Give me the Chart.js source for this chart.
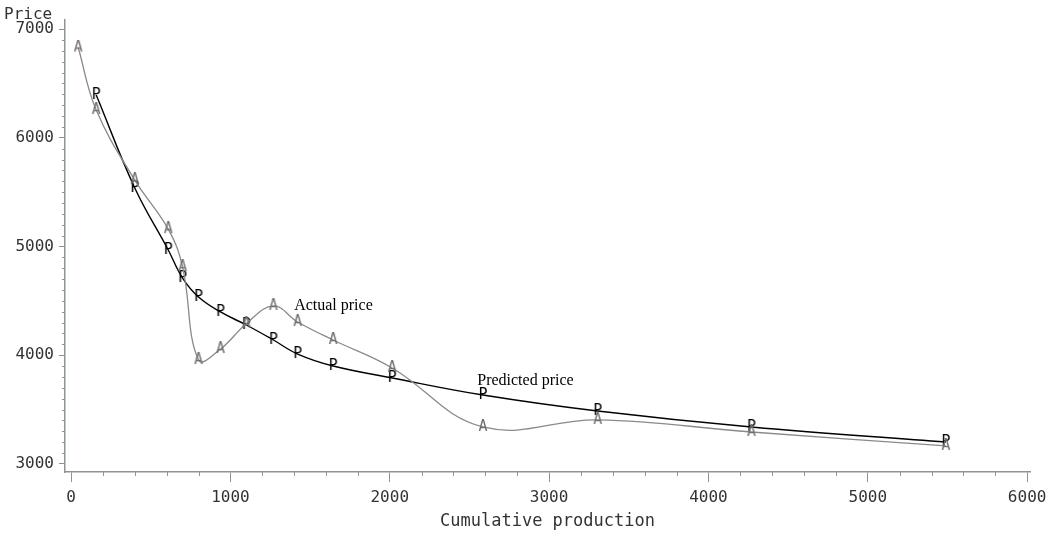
<!DOCTYPE html>
<html>
<head>
<meta charset="utf-8">
<script src="https://cdn.jsdelivr.net/npm/chart.js@4"></script>
<style>
  html, body { margin: 0; padding: 0; background: #fff; }
  #wrap { width: 1047px; height: 539px; }
</style>
</head>
<body>
<div id="wrap"><canvas id="priceChart" width="1047" height="539"></canvas></div>
<script>
// cumulative production (x) and prices
const production = [45, 158, 400, 610, 700, 800, 938, 1100, 1270, 1422, 1645, 2015, 2585, 3305, 4270, 5490];
const actualPrice = [6830, 6255, 5610, 5160, 4810, 3956, 4057, 4290, 4453, 4306, 4140, 3883, 3340, 3405, 3294, 3166];
const predictedPrice = [null, 6393, 5538, 4968, 4710, 4536, 4398, 4278, 4140, 4011, 3901, 3791, 3634, 3487, 3340, 3202];
const xTicks = [0, 1000, 2000, 3000, 4000, 5000, 6000];
const yTicks = [3000, 4000, 5000, 6000, 7000];

const axisColor = '#8c968c';
const labelColor = '#333';
const monoFont = 'DejaVu Sans Mono';

function toPoints(ys) {
  return production.map((x, i) => ({ x: x, y: ys[i] })).filter(p => p.y !== null);
}

// letter markers like the old SAS plot symbols
function letterMarker(ch, color) {
  const c = document.createElement('canvas');
  c.width = 12; c.height = 16;
  const ctx = c.getContext('2d');
  ctx.fillStyle = color;
  ctx.font = '15px ' + monoFont;
  ctx.textAlign = 'center';
  ctx.textBaseline = 'middle';
  ctx.fillText(ch, 6, 8.5);
  return c;
}

// minor ticks + free text
const extras = {
  id: 'extras',
  afterDraw(chart) {
    const ctx = chart.ctx;
    const xs = chart.scales.x, ys = chart.scales.y;
    const area = chart.chartArea;
    ctx.save();
    ctx.strokeStyle = axisColor;
    ctx.lineWidth = 1;
    ctx.beginPath();
    for (let v = 3100; v < 7000; v += 100) {
      if (v % 1000 === 0) continue;
      const py = Math.round(ys.getPixelForValue(v)) + 0.5;
      ctx.moveTo(area.left - 3, py);
      ctx.lineTo(area.left, py);
    }
    for (let v = 200; v < 6000; v += 200) {
      if (v % 1000 === 0) continue;
      const px = Math.round(xs.getPixelForValue(v)) + 0.5;
      ctx.moveTo(px, area.bottom);
      ctx.lineTo(px, area.bottom + 4);
    }
    ctx.stroke();

    ctx.fillStyle = labelColor;
    ctx.font = '16px ' + monoFont;
    ctx.textAlign = 'left';
    ctx.textBaseline = 'alphabetic';
    ctx.fillText('Price', 4, 19);

    // x axis title
    ctx.font = '17px ' + monoFont;
    ctx.textAlign = 'center';
    ctx.textBaseline = 'middle';
    ctx.fillText('Cumulative production', (area.left + area.right) / 2, 522);

    ctx.fillStyle = '#000';
    ctx.font = '16px "Liberation Serif"';
    ctx.textAlign = 'left';
    ctx.fillText('Actual price', xs.getPixelForValue(1400), ys.getPixelForValue(4453));
    ctx.fillText('Predicted price', xs.getPixelForValue(2549), ys.getPixelForValue(3763));
    ctx.restore();
  }
};

new Chart(document.getElementById('priceChart'), {
  type: 'line',
  data: {
    datasets: [{
      label: 'Actual price',
      data: toPoints(actualPrice),
      borderColor: '#8a8a8a',
      borderWidth: 1.3,
      tension: 0.4,
      pointStyle: letterMarker('A', '#707070'),
      pointRadius: 6,
      fill: false
    }, {
      label: 'Predicted price',
      data: toPoints(predictedPrice),
      borderColor: '#000',
      borderWidth: 1.4,
      tension: 0.4,
      pointStyle: letterMarker('P', '#000'),
      pointRadius: 6,
      fill: false
    }]
  },
  options: {
    responsive: false,
    animation: false,
    layout: { padding: { top: 20, right: 17, left: 0, bottom: 0 } },
    plugins: { legend: { display: false }, tooltip: { enabled: false } },
    scales: {
      x: {
        type: 'linear',
        min: -38,
        max: 6018,
        afterFit: s => { s.height = 67; s.paddingRight = 0; },
        afterBuildTicks: s => { s.ticks = xTicks.map(v => ({ value: v })); },
        grid: { drawOnChartArea: false, color: axisColor, tickLength: 10 },
        border: { color: axisColor, width: 1.5 },
        ticks: { color: labelColor, font: { family: monoFont, size: 16 }, padding: 6, maxRotation: 0,
                 callback: v => String(v) }
      },
      y: {
        type: 'linear',
        min: 2926,
        max: 7083,
        afterFit: s => { s.width = 65; },
        afterBuildTicks: s => { s.ticks = yTicks.map(v => ({ value: v })); },
        grid: { drawOnChartArea: false, color: axisColor, tickLength: 6 },
        border: { color: axisColor, width: 1.5 },
        ticks: { color: labelColor, font: { family: monoFont, size: 16 }, padding: 5,
                 callback: v => String(v) }
      }
    }
  },
  plugins: [extras]
});
</script>
</body>
</html>
